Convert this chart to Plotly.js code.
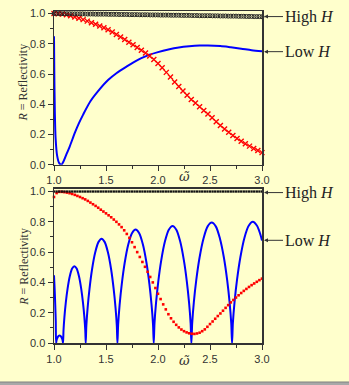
<!DOCTYPE html>
<html><head><meta charset="utf-8">
<script src="https://cdn.plot.ly/plotly-3.0.1.min.js"></script>
<style>html,body{margin:0;padding:0;background:#ffffcc;}#plot{width:349px;height:385px;}</style>
</head><body><div id="plot"></div>
<script>
// shared sample grids (omega-tilde)
const x25 = [1.000,1.025,1.050,1.075,1.100,1.125,1.150,1.175,1.200,1.225,1.250,1.275,1.300,1.325,1.350,1.375,1.400,1.425,1.450,1.475,1.500,1.525,1.550,1.575,1.600,1.625,1.650,1.675,1.700,1.725,1.750,1.775,1.800,1.825,1.850,1.875,1.900,1.925,1.950,1.975,2.000,2.025,2.050,2.075,2.100,2.125,2.150,2.175,2.200,2.225,2.250,2.275,2.300,2.325,2.350,2.375,2.400,2.425,2.450,2.475,2.500,2.525,2.550,2.575,2.600,2.625,2.650,2.675,2.700,2.725,2.750,2.775,2.800,2.825,2.850,2.875,2.900,2.925,2.950,2.975,3.000];
const x04 = [1.00,1.04,1.08,1.12,1.16,1.20,1.24,1.28,1.32,1.36,1.40,1.44,1.48,1.52,1.56,1.60,1.64,1.68,1.72,1.76,1.80,1.84,1.88,1.92,1.96,2.00,2.04,2.08,2.12,2.16,2.20,2.24,2.28,2.32,2.36,2.40,2.44,2.48,2.52,2.56,2.60,2.64,2.68,2.72,2.76,2.80,2.84,2.88,2.92,2.96,3.00];

// top panel
const topHighH = [1.000,1.000,1.000,0.999,0.999,0.999,0.999,0.998,0.998,0.998,
 0.998,0.998,0.997,0.997,0.997,0.997,0.996,0.996,0.996,0.996,
 0.996,0.995,0.995,0.995,0.995,0.994,0.994,0.994,0.994,0.993,
 0.993,0.993,0.993,0.992,0.992,0.992,0.992,0.991,0.991,0.991,
 0.991,0.990,0.990,0.990,0.990,0.989,0.989,0.989,0.989,0.988,
 0.988,0.988,0.988,0.987,0.987,0.987,0.986,0.986,0.986,0.986,
 0.986,0.985,0.985,0.985,0.984,0.984,0.984,0.983,0.983,0.983,
 0.983,0.982,0.982,0.982,0.981,0.981,0.981,0.980,0.980,0.980,0.979];
const topMid = [1.000,0.999,0.997,0.992,0.986,0.978,0.969,0.960,0.950,0.940,
 0.930,0.918,0.906,0.893,0.878,0.862,0.845,0.829,0.811,0.793,
 0.775,0.757,0.739,0.719,0.696,0.670,0.641,0.611,0.580,0.548,
 0.517,0.488,0.459,0.432,0.408,0.384,0.359,0.335,0.310,0.285,
 0.260,0.237,0.215,0.194,0.174,0.155,0.139,0.123,0.108,0.094,0.080];
const topLowX = [1.000,1.003,1.008,1.015,1.030,1.050,1.071,1.090,1.120,1.151,1.200,1.240,1.279,1.350,1.440,1.520,1.600,1.700,1.760,1.840,1.920,2.000,2.100,2.200,2.300,2.400,2.480,2.600,2.700,2.800,2.900,3.000];
const topLowY = [0.850,0.600,0.350,0.180,0.060,0.010,0.000,0.020,0.070,0.120,0.210,0.275,0.330,0.420,0.500,0.560,0.605,0.650,0.675,0.705,0.728,0.745,0.762,0.775,0.783,0.788,0.789,0.785,0.777,0.768,0.758,0.751];

// bottom panel
const botHighH = [1,1,1,1,1,1,1,1,1,1,1,1,1,1,1,1,1,1,1,1,1,1,1,1,1,1,1,1,1,1,1,1,1,1,1,1,1,1,1,1,1,1,1,1,1,1,1,1,1,1,1,1,1,1,1,1,1,1,1,1,1,1,1,1,1,1,1,1,1,1,1,1,1,1,1,1,1,1,1,1,1];
const botMid = [0.964,0.990,0.998,0.998,0.996,0.993,0.989,0.984,0.978,0.971,
 0.964,0.956,0.948,0.938,0.927,0.916,0.905,0.893,0.880,0.868,
 0.856,0.843,0.830,0.815,0.800,0.783,0.765,0.744,0.720,0.694,
 0.665,0.633,0.600,0.568,0.535,0.503,0.470,0.436,0.400,0.363,
 0.325,0.290,0.255,0.222,0.190,0.163,0.140,0.120,0.103,0.089,
 0.078,0.070,0.064,0.061,0.060,0.063,0.068,0.078,0.090,0.107,
 0.125,0.142,0.160,0.178,0.195,0.213,0.232,0.250,0.268,0.284,
 0.300,0.315,0.330,0.344,0.357,0.370,0.382,0.393,0.404,0.415,0.425];
const botLowX = [1.000,1.006,1.012,1.017,1.020,1.024,1.033,1.044,1.0535,1.063,1.074,1.083,
 1.087,1.0914,1.1001,1.1132,1.1306,1.1524,1.1742,1.196,1.2178,1.2396,1.2614,1.2788,1.2919,1.3006,
 1.305,1.3111,1.3233,1.3416,1.366,1.3965,1.427,1.4575,1.488,1.5185,1.549,1.5734,1.5917,1.6039,
 1.610,1.617,1.6309,1.6519,1.6798,1.7147,1.7496,1.7845,1.8194,1.8543,1.8892,1.9171,1.9381,1.952,
 1.959,1.9662,1.9807,2.0024,2.0314,2.0676,2.1038,2.140,2.1762,2.2124,2.2486,2.2776,2.2993,2.3138,
 2.321,2.3288,2.3445,2.3679,2.3992,2.4383,2.4774,2.5165,2.5556,2.5947,2.6338,2.6651,2.6885,2.7042,
 2.712,2.720,2.736,2.760,2.792,2.832,2.872,2.912,2.952,2.980,3.000];
const botLowY = [0.447,0.360,0.250,0.140,0.000,0.017,0.035,0.047,0.050,0.047,0.035,0.017,
 0.000,0.084,0.171,0.265,0.359,0.442,0.491,0.507,0.491,0.442,0.359,0.265,0.171,0.084,
 0.000,0.114,0.232,0.359,0.487,0.599,0.666,0.688,0.666,0.599,0.487,0.359,0.232,0.114,
 0.000,0.124,0.252,0.391,0.530,0.652,0.725,0.749,0.725,0.652,0.530,0.391,0.252,0.124,
 0.000,0.128,0.261,0.404,0.547,0.673,0.748,0.773,0.748,0.673,0.547,0.404,0.261,0.128,
 0.000,0.131,0.268,0.415,0.563,0.692,0.770,0.795,0.770,0.692,0.563,0.415,0.268,0.131,
 0.000,0.132,0.270,0.418,0.566,0.697,0.774,0.800,0.774,0.726,0.677];

const xTickVals = [1.0,1.5,2.0,2.5,3.0];
const yTickVals = [0.0,0.2,0.4,0.6,0.8,1.0];

const AX = '#333333';
const tickFont = {family:'Liberation Sans, Arial, sans-serif', size:11, color:'#333333'};
function xax(anchor){return {range:[1,3], anchor:anchor, domain:[0,1], showgrid:false, zeroline:false,
  tickvals:xTickVals, tickformat:'.1f', ticks:'outside', ticklen:5, tickwidth:1, tickcolor:AX,
  showline:true, linecolor:AX, linewidth:1.5, mirror:true, tickfont:tickFont,
  minor:{dtick:0.25, tick0:1, ticks:'outside', ticklen:3, tickcolor:AX, tickwidth:1, showgrid:false}};}
function yax(anchor, dom){return {range:[0,1.017], anchor:anchor, domain:dom, showgrid:false, zeroline:false,
  tickvals:yTickVals, tickformat:'.1f', ticks:'outside', ticklen:5, tickwidth:1, tickcolor:AX,
  showline:true, linecolor:AX, linewidth:1.5, mirror:true, tickfont:tickFont,
  minor:{dtick:0.1, tick0:0, ticks:'outside', ticklen:3, tickcolor:AX, tickwidth:1, showgrid:false}};}

const traces = [
 {x:topLowX, y:topLowY, xaxis:'x', yaxis:'y', mode:'lines', line:{color:'#0000ff', width:2, shape:'spline', smoothing:0.8}},
 {x:x04, y:topMid, xaxis:'x', yaxis:'y', mode:'markers', cliponaxis:false,
  marker:{symbol:'x-thin', size:5, color:'#ff0000', line:{width:1.4, color:'#ff0000'}}},
 {x:x25, y:topHighH, xaxis:'x', yaxis:'y', mode:'markers', cliponaxis:false,
  marker:{symbol:'circle-open', size:4, color:'#222222', line:{width:1}}},
 {x:botLowX, y:botLowY, xaxis:'x2', yaxis:'y2', mode:'lines', line:{color:'#0000ff', width:2, shape:'spline', smoothing:0.8}},
 {x:x25, y:botMid, xaxis:'x2', yaxis:'y2', mode:'markers', cliponaxis:false,
  marker:{symbol:'square', size:2.6, color:'#ff0000'}},
 {x:x25, y:botHighH, xaxis:'x2', yaxis:'y2', mode:'markers', cliponaxis:false,
  marker:{symbol:'square', size:2.3, color:'#111111'}}
];

const serif = 'Liberation Serif, Times New Roman, serif';
function label(txt, xr, yr, yv){return {xref:xr, yref:yr, x:3.0, y:yv, text:txt, showarrow:true,
  ax:21, ay:0, axref:'pixel', ayref:'pixel', xanchor:'left', arrowhead:2, arrowsize:0.8, arrowwidth:1,
  arrowcolor:'#333333', standoff:2, font:{family:serif, size:16, color:'#222222'}};}
function omega(xr, yv){return {xref:xr, yref:'paper', x:2.25, y:yv, xanchor:'center', yanchor:'middle',
  text:'<i>ω̃</i>', showarrow:false, font:{family:'DejaVu Serif, serif', size:13, color:'#333333'}};}
function ytitle(yv){return {xref:'paper', yref:'paper', x:-0.148, y:yv, xanchor:'center', yanchor:'middle',
  text:'<i>R</i> = Reflectivity', textangle:-90, showarrow:false, font:{family:serif, size:12, color:'#333333'}};}

const layout = {
 width:349, height:385, margin:{l:54, r:87, t:11, b:42},
 paper_bgcolor:'#ffffcc', plot_bgcolor:'#ffffcc', showlegend:false,
 xaxis:xax('y'), yaxis:yax('x',[0.537,1]),
 xaxis2:xax('y2'), yaxis2:yax('x2',[0,0.464]),
 annotations:[
  ytitle(0.785), ytitle(0.23),
  omega('x', 0.5015), omega('x2', -0.054),
  label('High <i>H</i>','x','y',0.98),
  label('Low <i>H</i>','x','y',0.748),
  label('High <i>H</i>','x2','y2',0.993),
  label('Low <i>H</i>','x2','y2',0.678)
 ],
 shapes:[
  {type:'rect', xref:'paper', yref:'paper', x0:-0.3, x1:1.5, y0:-0.1175, y1:-0.14, fillcolor:'#a8a8a8', line:{width:0}, layer:'below'},
  {type:'line', xref:'paper', yref:'paper', x0:-0.3, x1:1.5, y0:-0.1175, y1:-0.1175, line:{color:'#808080', width:1}}
 ]
};
Plotly.newPlot('plot', traces, layout, {displayModeBar:false, staticPlot:true});
</script></body></html>
